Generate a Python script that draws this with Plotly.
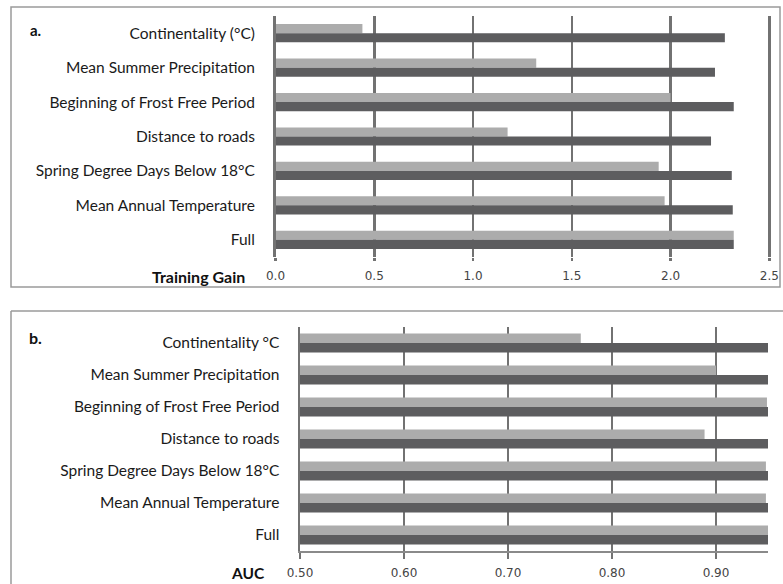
import plotly.graph_objects as go

W, H = 783, 584

cats_a = ["Continentality (°C)", "Mean Summer Precipitation", "Beginning of Frost Free Period",
          "Distance to roads", "Spring Degree Days Below 18°C", "Mean Annual Temperature", "Full"]
cats_b = ["Continentality °C", "Mean Summer Precipitation", "Beginning of Frost Free Period",
          "Distance to roads", "Spring Degree Days Below 18°C", "Mean Annual Temperature", "Full"]

gain_light = [0.44, 1.32, 2.00, 1.175, 1.94, 1.97, 2.32]
gain_dark = [2.275, 2.225, 2.32, 2.205, 2.31, 2.315, 2.32]

auc_light = [0.77, 0.90, 0.949, 0.889, 0.948, 0.948, 0.95]
auc_dark = [0.95, 0.95, 0.95, 0.95, 0.95, 0.95, 0.95]

ticks_a = [0.0, 0.5, 1.0, 1.5, 2.0, 2.5]
ticklabels_a = ["0.0", "0.5", "1.0", "1.5", "2.0", "2.5"]
ticks_b = [0.5, 0.6, 0.7, 0.8, 0.9]
ticklabels_b = ["0.50", "0.60", "0.70", "0.80", "0.90"]

LIGHT = "#acacac"
DARK = "#5d5d5f"
GRID = "#727272"
LBL = "Lato, 'Open Sans', sans-serif"
NUM = "'DejaVu Sans', Verdana, sans-serif"


def px_x(v):
    return v / W


def px_y(v):
    return 1 - v / H


fig = go.Figure()
wa = 0.265
wb = 0.296
fig.add_trace(go.Bar(y=cats_a, x=gain_light, orientation="h", marker_color=LIGHT,
                     width=wa, offset=-wa, xaxis="x", yaxis="y", showlegend=False))
fig.add_trace(go.Bar(y=cats_a, x=gain_dark, orientation="h", marker_color=DARK,
                     width=wa, offset=0, xaxis="x", yaxis="y", showlegend=False))
fig.add_trace(go.Bar(y=cats_b, x=auc_light, orientation="h", marker_color=LIGHT,
                     width=wb, offset=-wb, xaxis="x2", yaxis="y2", showlegend=False))
fig.add_trace(go.Bar(y=cats_b, x=auc_dark, orientation="h", marker_color=DARK,
                     width=wb, offset=0, xaxis="x2", yaxis="y2", showlegend=False))

common_x = dict(showgrid=True, gridcolor=GRID, gridwidth=2.5, zeroline=False,
                ticks="outside", tickwidth=2.5, tickcolor=GRID, automargin=False,
                tickfont=dict(family=NUM, size=12, color="#444"), fixedrange=True)
common_y = dict(showgrid=False, zeroline=False, ticks="", autorange="reversed", automargin=False,
                tickfont=dict(family=LBL, size=15.5, color="#1a1a1a"), ticklabelstandoff=15,
                showline=True, linecolor=GRID, linewidth=2.5, fixedrange=True)

x_a0, x_a1 = 275.5, 769.3
pad_a = 0.006  # small extra range so the 2.5 gridline is drawn inside the plot
fig.update_layout(
    template="none",
    width=W, height=H,
    margin=dict(l=0, r=0, t=0, b=0, pad=0),
    paper_bgcolor="white", plot_bgcolor="white",
    barmode="overlay",
    xaxis=dict(domain=[px_x(x_a0), px_x(x_a1 + (x_a1 - x_a0) * pad_a / 2.5)],
               range=[0, 2.5 + pad_a], tickvals=ticks_a, ticklen=3,
               ticktext=ticklabels_a, anchor="y", ticklabelstandoff=5, **common_x),
    yaxis=dict(domain=[px_y(257), px_y(16)], anchor="x", **common_y),
    xaxis2=dict(domain=[px_x(300), px_x(768)], range=[0.5, 0.95], tickvals=ticks_b,
                ticktext=ticklabels_b, anchor="y2", showline=True, linecolor="#8a8a8a",
                linewidth=1.5, ticklen=6, ticklabelstandoff=4, **common_x),
    yaxis2=dict(domain=[px_y(551), px_y(327)], anchor="x2", **common_y),
    annotations=[
        dict(text="<b>a.</b>", x=px_x(28), y=px_y(30), xref="paper", yref="paper",
             xanchor="left", yanchor="middle", showarrow=False,
             font=dict(family=LBL, size=15, color="#111")),
        dict(text="<b>b.</b>", x=px_x(27), y=px_y(337), xref="paper", yref="paper",
             xanchor="left", yanchor="middle", showarrow=False,
             font=dict(family=LBL, size=16, color="#111")),
        dict(text="<b>Training Gain</b>", x=px_x(247), y=px_y(276), xref="paper", yref="paper",
             xanchor="right", yanchor="middle", showarrow=False,
             font=dict(family=LBL, size=16, color="#111")),
        dict(text="<b>AUC</b>", x=px_x(267), y=px_y(573), xref="paper", yref="paper",
             xanchor="right", yanchor="middle", showarrow=False,
             font=dict(family=LBL, size=15.5, color="#111")),
    ],
    shapes=[
        dict(type="rect", xref="paper", yref="paper", x0=px_x(11), x1=px_x(780),
             y0=px_y(287), y1=px_y(7), line=dict(color="#9a9a9a", width=1.5)),
        dict(type="line", xref="paper", yref="paper", x0=px_x(11), x1=1.0,
             y0=px_y(311), y1=px_y(311), line=dict(color="#9a9a9a", width=1.5)),
        dict(type="line", xref="paper", yref="paper", x0=px_x(11), x1=px_x(11),
             y0=0, y1=px_y(311), line=dict(color="#9a9a9a", width=1.5)),
    ],
)

fig.write_html("out.html", config={"displayModeBar": False, "staticPlot": True},
               post_script="document.body.style.margin='0';document.body.style.overflow='hidden';")
